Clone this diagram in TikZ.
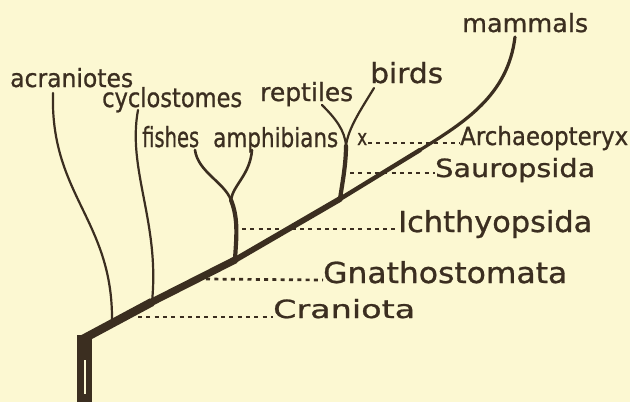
\documentclass[tikz,border=0pt]{standalone}
\usepackage{fontspec}
\setmainfont{DejaVu Sans}[FakeBold=0.9]
\definecolor{bg}{HTML}{FCF8D2}
\definecolor{ink}{HTML}{3B2E20}
\newcommand\fitw[3]{\resizebox{#1pt}{#2pt}{#3}}
\begin{document}
\begin{tikzpicture}[x=1pt,y=-1pt,
  lbl/.style={inner sep=0pt, anchor=base west, text=ink, font=\fontsize{24}{24}\selectfont},
  branch/.style={draw=ink, line width=2.2pt, line cap=round},
  stembr/.style={draw=ink, line width=4.2pt, line cap=round},
  trunk/.style={draw=ink, line cap=round},
  dots/.style={draw=ink, line width=2.7pt, dash pattern=on 4pt off 4.3pt}]
\fill[bg] (0,0) rectangle (630,402);
\useasboundingbox (0,0) rectangle (630,402);
% labels
\node[lbl] (acr) at (10,87) {\fitw{123}{19}{acraniotes}};
\node[lbl] (cyc) at (102,107) {\fitw{140}{20}{cyclostomes}};
\node[lbl] (fis) at (142,147) {\fitw{57}{21}{fishes}};
\node[lbl] (amp) at (213,147) {\fitw{125}{20}{amphibians}};
\node[lbl] (rep) at (260,101) {\fitw{93}{19}{reptiles}};
\node[lbl] (bir) at (370,83) {\fitw{73}{21}{birds}};
\node[lbl] (mam) at (462,32) {\fitw{126}{19}{mammals}};
\node[lbl] (xx) at (357,145) {\fitw{10}{12}{x}};
\node[lbl] (arc) at (460,145) {\fitw{168}{19}{Archaeopteryx}};
\node[lbl] (sau) at (435,177) {\fitw{160}{19}{Sauropsida}};
\node[lbl] (ich) at (398,232) {\fitw{194}{22}{Ichthyopsida}};
\node[lbl] (gna) at (323,283) {\fitw{244}{22}{Gnathostomata}};
\node[lbl] (cra) at (273,318) {\fitw{142}{19}{Craniota}};
% coordinates
\coordinate (base) at (83,339);
\coordinate (jacr) at (112,321);
\coordinate (jcyc) at (152,302);
\coordinate (jfis) at (235,260);
\coordinate (jrep) at (340,199);
\coordinate (jm) at (420,150);
\coordinate (mtop) at (515,37);
\coordinate (fa) at (231,200);
\coordinate (rb) at (346,146);
\coordinate (acrS) at (53,93);
\coordinate (cycS) at (138,110);
\coordinate (fisS) at (195,150);
\coordinate (ampS) at (252,150);
\coordinate (repS) at (322,105);
\coordinate (birS) at (374,88);
% stem
\fill[ink] (77,335) rectangle (92,402);
\draw[bg, line width=1.3pt] (85,360) -- (85,394);
% trunk
\draw[trunk, line width=8.5pt, line cap=butt] (base) -- (jcyc);
\draw[trunk, line width=7.2pt] (jcyc) -- (jfis);
\draw[trunk, line width=5.8pt] (jfis) -- (jrep);
\draw[trunk, line width=4.4pt] (jrep) -- (jm);
\draw[trunk, line width=3.2pt] (jm) .. controls (465,122) and (508,95) .. (mtop);
% branches
\draw[branch] (acrS) .. controls (50,195) and (113,220) .. (jacr);
\draw[branch] (cycS) .. controls (127,170) and (160,222) .. (jcyc);
\draw[branch, line width=2.6pt] (fisS) .. controls (198,172) and (224,182) .. (fa);
\draw[branch, line width=2.6pt] (ampS) .. controls (250,175) and (233,185) .. (fa);
\draw[stembr] (fa) .. controls (239,220) and (236,240) .. (jfis);
\draw[branch] (repS) .. controls (335,118) and (345,130) .. (rb);
\draw[branch] (birS) .. controls (362,108) and (348,128) .. (rb);
\draw[stembr] (rb) .. controls (346,165) and (342,185) .. (jrep);
% dotted leaders
\draw[dots] (368,143) -- ([yshift=2pt]arc.base west);
\draw[dots] (350,173) -- ([yshift=4pt]sau.base west);
\draw[dots] (242,229) -- ([yshift=3pt]ich.base west);
\draw[dots] (206,279) -- ([yshift=3pt]gna.base west);
\draw[dots] (138,317) -- ([yshift=1pt]cra.base west);
\end{tikzpicture}
\end{document}
